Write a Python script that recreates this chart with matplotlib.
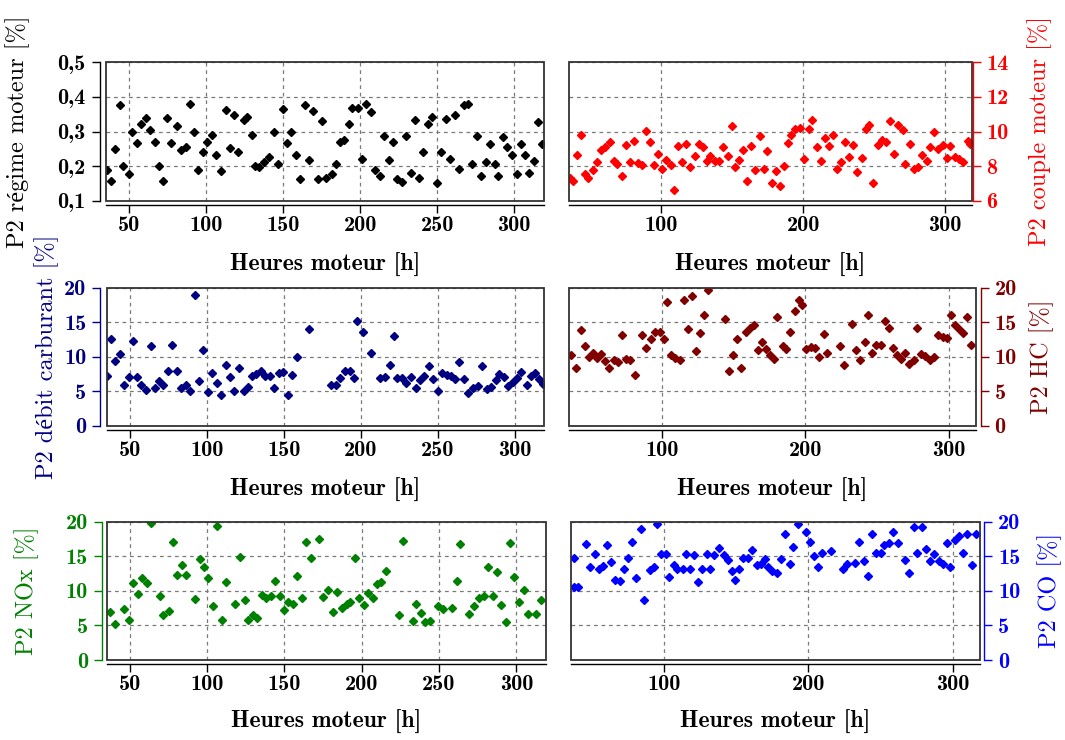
import numpy as np
import matplotlib
matplotlib.use('Agg')
import matplotlib.pyplot as plt
from matplotlib.patches import Rectangle
from matplotlib.ticker import FixedLocator, FuncFormatter

plt.rcParams['font.family'] = ['cmb10', 'DejaVu Serif']
plt.rcParams['axes.unicode_minus'] = False

# --- data (hours, value in %) ---
hours_regime = [35.5, 38.1, 40.7, 44.2, 46.3, 49.8, 52.2, 55.2, 57.8, 61.0,
                63.6, 66.5, 69.7, 72.1, 74.5, 77.5, 81.0, 83.5, 87.0, 89.6,
                92.4, 94.6, 97.8, 100.4, 103.7, 106.5, 109.6, 112.6, 115.2, 118.4,
                120.8, 124.3, 126.4, 129.7, 131.8, 134.6, 137.7, 140.7, 144.2, 146.5,
                149.8, 152.4, 155.4, 158.4, 161.0, 164.3, 166.9, 169.3, 172.5, 175.3,
                177.9, 181.4, 184.0, 187.0, 189.2, 192.5, 194.8, 198.3, 201.1, 203.9,
                207.2, 209.7, 213.0, 215.6, 218.4, 221.2, 224.2, 227.1, 229.9, 232.9,
                235.3, 238.5, 240.9, 243.9, 246.5, 249.8, 252.4, 255.6, 258.4, 261.3,
                263.9, 267.1, 270.3, 272.5, 275.8, 278.4, 281.6, 284.0, 287.3, 289.4,
                292.9, 295.2, 298.5, 301.7, 304.3, 307.3, 309.7, 312.9, 315.4, 317.9]
regime = [0.189, 0.158, 0.25, 0.377, 0.202, 0.177, 0.30, 0.268, 0.322, 0.338,
          0.305, 0.271, 0.202, 0.158, 0.338, 0.268, 0.316, 0.247, 0.256, 0.379,
          0.298, 0.189, 0.242, 0.269, 0.29, 0.233, 0.187, 0.362, 0.252, 0.348,
          0.242, 0.334, 0.343, 0.29, 0.202, 0.199, 0.212, 0.228, 0.298, 0.207,
          0.365, 0.268, 0.298, 0.233, 0.163, 0.377, 0.218, 0.358, 0.163, 0.329,
          0.167, 0.177, 0.207, 0.269, 0.276, 0.322, 0.369, 0.369, 0.221, 0.38,
          0.355, 0.189, 0.173, 0.288, 0.218, 0.269, 0.163, 0.156, 0.288, 0.18,
          0.334, 0.167, 0.242, 0.322, 0.343, 0.151, 0.242, 0.337, 0.221, 0.348,
          0.192, 0.377, 0.379, 0.207, 0.288, 0.173, 0.212, 0.263, 0.207, 0.173,
          0.284, 0.254, 0.233, 0.177, 0.264, 0.231, 0.18, 0.215, 0.326, 0.264]

hours_couple = [35.4, 37.8, 40.4, 43.2, 46.0, 48.4, 51.9, 54.7, 57.7, 60.6,
                63.6, 66.4, 69.0, 72.3, 75.1, 77.7, 80.5, 83.6, 86.4, 89.0,
                91.8, 94.8, 97.7, 100.5, 103.5, 106.6, 108.9, 111.7, 114.6, 117.6,
                120.4, 123.5, 126.3, 129.3, 132.2, 134.7, 138.0, 140.6, 143.4, 146.9,
                149.8, 152.1, 154.5, 157.5, 160.6, 163.4, 166.2, 169.7, 172.3, 174.6,
                178.2, 180.8, 183.8, 186.2, 189.2, 191.5, 194.4, 197.9, 200.9, 203.8,
                206.3, 209.6, 212.4, 215.3, 218.5, 220.9, 224.0, 226.8, 229.6, 232.6,
                235.4, 238.0, 241.5, 244.4, 246.7, 249.5, 252.6, 255.4, 258.5, 261.3,
                264.3, 266.7, 270.2, 272.1, 275.6, 278.1, 280.8, 283.9, 287.1, 289.7,
                292.5, 295.3, 298.4, 301.2, 303.8, 307.0, 310.1, 312.4, 316.0, 317.8]
couple = [7.31, 7.15, 8.65, 9.81, 7.56, 7.31, 7.79, 8.23, 8.94, 9.13,
          9.37, 8.31, 8.13, 7.46, 9.23, 8.23, 9.46, 8.17, 8.08, 10.04,
          9.38, 8.08, 8.69, 7.85, 8.37, 8.08, 6.63, 9.19, 8.23, 9.29,
          7.98, 8.6, 9.29, 9.13, 8.31, 8.6, 8.31, 8.33, 9.1, 8.6,
          10.29, 7.94, 8.37, 8.94, 7.15, 9.19, 7.79, 9.75, 7.85, 8.85,
          7.02, 7.73, 6.87, 8.04, 9.33, 9.81, 10.15, 10.19, 8.42, 10.15,
          10.67, 9.08, 8.31, 9.62, 9.19, 9.81, 7.85, 8.23, 9.42, 8.56,
          9.23, 7.65, 8.5, 10.15, 10.38, 7.06, 9.23, 9.52, 9.38, 10.62,
          8.71, 10.38, 10.1, 8.13, 9.29, 7.85, 7.98, 8.65, 8.31, 9.08,
          9.96, 8.98, 9.23, 8.5, 9.17, 8.56, 8.4, 8.23, 9.46, 9.27]

hours_debit = [35.5, 37.7, 40.3, 43.7, 46.3, 49.6, 52.2, 55.0, 57.6, 60.8,
               63.6, 66.2, 69.0, 71.8, 75.0, 77.4, 80.9, 83.5, 86.7, 89.1,
               92.3, 95.3, 97.9, 100.9, 103.5, 106.6, 109.4, 112.4, 115.0, 118.0,
               121.0, 124.1, 127.1, 129.5, 132.3, 135.3, 138.1, 140.9, 143.9, 146.7,
               149.5, 152.8, 155.4, 158.6, 166.6, 180.6, 183.9, 186.7, 189.5, 192.7,
               195.3, 197.5, 201.1, 206.7, 212.1, 215.8, 218.6, 221.2, 223.4, 226.6,
               229.4, 232.4, 235.7, 238.5, 241.1, 243.9, 246.7, 250.3, 252.9, 255.7,
               258.3, 261.1, 263.7, 266.9, 269.8, 272.6, 275.8, 278.4, 281.6, 284.2,
               287.5, 289.8, 292.9, 295.7, 298.5, 301.1, 303.7, 307.6, 310.2, 313.0,
               315.8, 318.4]
debit = [7.13, 12.49, 9.38, 10.33, 5.93, 6.99, 12.2, 6.99, 5.93, 5.22,
         11.53, 5.41, 6.51, 5.93, 7.94, 11.72, 7.94, 5.45, 5.93, 5.07,
         18.85, 6.51, 10.96, 4.83, 7.56, 6.12, 4.5, 8.8, 6.99, 5.07,
         8.28, 5.07, 5.65, 7.22, 7.46, 7.94, 7.22, 7.13, 5.45, 7.56,
         7.8, 4.5, 7.37, 9.95, 14.02, 5.93, 5.93, 6.84, 7.85, 7.85,
         6.84, 15.12, 13.59, 10.57, 6.84, 6.99, 8.8, 12.97, 6.84, 6.84,
         6.17, 6.99, 5.45, 6.6, 7.13, 8.66, 6.75, 5.07, 7.61, 7.37,
         7.13, 6.75, 9.23, 6.75, 4.69, 5.41, 5.79, 8.66, 5.31, 5.55,
         6.65, 7.46, 7.08, 5.69, 6.27, 6.89, 7.8, 5.89, 7.22, 7.56,
         6.75, 6.03]

hours_hc = [36.4, 39.9, 43.0, 45.8, 48.5, 51.6, 54.4, 57.0, 60.2, 62.7,
            66.0, 69.0, 71.8, 74.4, 77.2, 80.7, 85.8, 88.8, 91.9, 94.6,
            98.1, 100.9, 103.3, 105.8, 108.6, 112.1, 115.1, 117.9, 120.7, 123.3,
            126.1, 129.1, 131.9, 143.5, 146.6, 149.4, 152.2, 155.2, 158.2, 161.0,
            164.0, 166.8, 169.6, 172.6, 175.4, 178.0, 180.3, 184.3, 186.6, 189.4,
            192.4, 195.2, 197.6, 200.6, 203.6, 206.9, 209.2, 212.7, 215.2, 223.9,
            226.9, 232.7, 235.5, 237.8, 241.3, 243.7, 246.5, 249.5, 252.5, 255.3,
            258.1, 261.1, 263.9, 266.9, 269.7, 272.7, 275.8, 278.1, 280.9, 283.7,
            287.2, 290.2, 292.6, 296.0, 298.8, 301.4, 304.2, 307.2, 310.0, 312.8,
            315.8]
hc = [10.19, 8.28, 13.83, 11.53, 10.0, 10.48, 9.86, 10.33, 9.38, 8.42,
      9.52, 9.23, 13.11, 9.71, 9.52, 7.37, 13.11, 11.29, 12.58, 13.54,
      13.54, 12.58, 17.89, 10.19, 9.76, 9.52, 18.13, 14.02, 18.71, 10.81,
      13.35, 15.98, 19.57, 15.45, 7.94, 10.19, 12.58, 8.28, 13.54, 14.16,
      14.64, 10.96, 12.1, 11.05, 10.19, 9.62, 15.74, 11.53, 11.15, 13.54,
      16.56, 18.13, 17.51, 11.05, 11.44, 11.29, 9.95, 13.3, 10.48, 11.53,
      8.8, 14.78, 10.96, 9.52, 12.1, 15.98, 10.48, 11.63, 11.67, 15.12,
      14.16, 11.29, 10.19, 9.71, 10.48, 9.0, 9.47, 14.16, 10.33, 10.1,
      9.47, 10.0, 13.06, 12.87, 12.73, 15.98, 14.64, 14.02, 13.44, 15.74,
      11.67]

hours_nox = [37.3, 40.3, 45.9, 49.6, 52.2, 55.0, 57.8, 61.0, 63.6, 69.6,
             71.7, 75.4, 78.0, 80.8, 84.0, 86.6, 92.2, 95.2, 98.0, 100.8,
             103.8, 106.6, 109.9, 112.4, 118.0, 121.3, 124.3, 126.7, 129.7, 132.0,
             135.3, 138.3, 141.1, 143.7, 146.9, 149.7, 152.3, 155.5, 157.9, 161.1,
             163.7, 166.9, 172.3, 175.1, 178.1, 181.4, 184.2, 187.0, 190.2, 192.3,
             195.6, 198.1, 201.4, 204.0, 207.2, 209.6, 212.6, 215.4, 224.0, 226.8,
             233.0, 235.4, 238.4, 241.2, 244.0, 249.4, 252.6, 258.4, 261.7, 263.8,
             269.6, 272.9, 275.6, 278.9, 281.5, 284.7, 287.5, 290.1, 293.3, 295.7,
             298.7, 301.9, 304.7, 307.5, 312.9, 315.9]
nox = [6.98, 5.22, 7.32, 5.76, 11.07, 9.61, 11.8, 11.07, 19.85, 9.27,
       6.49, 7.07, 17.07, 12.34, 13.76, 12.34, 8.88, 14.54, 13.41, 11.8,
       7.8, 19.41, 5.85, 11.22, 8.15, 14.88, 8.68, 5.85, 6.49, 6.1,
       9.41, 9.02, 9.27, 11.37, 9.27, 7.17, 8.44, 8.15, 12.2, 8.93,
       17.07, 14.73, 17.56, 9.12, 10.1, 6.98, 9.9, 7.56, 8.05, 8.44,
       14.73, 9.02, 7.95, 9.76, 9.02, 10.98, 11.22, 12.83, 6.49, 17.22,
       5.71, 8.05, 6.83, 5.51, 5.71, 7.8, 7.32, 7.56, 11.37, 16.83,
       6.68, 7.8, 8.93, 9.27, 13.41, 9.27, 12.68, 7.95, 5.51, 16.93,
       12.05, 8.44, 10.1, 6.68, 6.68, 8.63]

hours_co = [37.1, 37.1, 40.1, 45.8, 48.6, 52.0, 54.3, 57.7, 60.5, 63.0,
            65.7, 69.1, 71.9, 74.9, 77.6, 80.1, 83.5, 85.8, 89.7, 92.5,
            94.7, 97.7, 101.1, 103.4, 106.4, 109.1, 112.6, 115.3, 117.8, 120.6,
            123.5, 126.3, 129.7, 132.0, 134.7, 138.2, 141.1, 144.1, 146.9, 149.1,
            151.9, 154.9, 157.8, 161.0, 164.0, 166.7, 169.7, 172.0, 175.0, 178.2,
            181.1, 183.4, 186.9, 189.1, 192.6, 198.3, 201.0, 204.0, 206.3, 209.7,
            215.4, 224.1, 226.9, 232.6, 235.3, 238.3, 241.3, 244.0, 247.0, 250.2,
            252.7, 255.9, 258.4, 261.8, 266.9, 269.8, 273.0, 275.5, 278.7, 281.7,
            284.5, 287.4, 290.4, 293.1, 296.1, 298.4, 301.6, 304.6, 307.3, 310.3,
            313.3, 316.0]
co = [14.73, 10.59, 10.59, 16.73, 13.41, 15.37, 13.17, 13.56, 16.59, 14.15,
      11.56, 11.37, 13.17, 14.73, 17.07, 11.8, 18.88, 8.68, 13.02, 13.41,
      19.66, 15.27, 15.27, 12.05, 13.8, 13.17, 13.17, 15.37, 13.17, 15.22,
      11.32, 13.17, 15.37, 13.17, 15.22, 16.24, 15.22, 14.49, 12.83, 11.56,
      13.17, 14.78, 14.78, 15.85, 13.76, 13.9, 14.54, 13.41, 12.93, 12.59,
      14.63, 18.29, 13.9, 16.34, 19.61, 18.54, 17.07, 15.02, 13.51, 15.51,
      15.76, 13.17, 13.9, 14.05, 17.07, 14.29, 12.2, 18.2, 15.51, 15.51,
      16.68, 16.93, 18.44, 16.93, 14.49, 12.54, 19.27, 15.51, 19.27, 16.0,
      14.29, 15.37, 14.29, 13.9, 16.93, 13.41, 17.32, 17.9, 15.51, 18.2,
      13.8, 18.2]

W, H = 1065, 740
fig = plt.figure(figsize=(W / 100, H / 100), dpi=100)

XLABEL = 'Heures moteur [h]'
YFONT = ['cmr10', 'Liberation Serif']


def comma(v, pos):
    return ('%.1f' % v).replace('.', ',')


def panel(box, x, y, color, ylim, yticks, ylabel, side, xticks,
          ylab_x, xlab_y, spine_off, yfmt=None):
    x0, x1, y0, y1 = box
    ax = fig.add_axes([x0 / W, (H - y1) / H, (x1 - x0) / W, (y1 - y0) / H])
    ax.plot(x, y, 'D', color=color, ms=3.8, ls='none')
    ax.set_xlim(35, 319)
    ax.set_ylim(*ylim)
    ax.xaxis.set_major_locator(FixedLocator(xticks))
    ax.yaxis.set_major_locator(FixedLocator(yticks))
    if yfmt is not None:
        ax.yaxis.set_major_formatter(FuncFormatter(yfmt))
    ax.set_axisbelow(True)
    ax.grid(True, color='#7a7a7a', ls=(0, (3, 3)), lw=0.9)

    ax.spines['top'].set_visible(False)
    other = 'right' if side == 'left' else 'left'
    ax.spines[other].set_visible(False)
    ax.spines[side].set_position(('outward', spine_off))
    ax.spines[side].set_color(color)
    ax.spines[side].set_linewidth(1.0)
    ax.spines['bottom'].set_position(('outward', 3))
    ax.spines['bottom'].set_color('black')
    ax.spines['bottom'].set_linewidth(1.0)
    ax.add_patch(Rectangle((0, 0), 1, 1, transform=ax.transAxes, fill=False,
                           ec='#333333', lw=1.3, clip_on=False, zorder=5))

    if side == 'right':
        ax.yaxis.tick_right()
        ax.yaxis.set_label_position('right')
    ax.tick_params(axis='y', direction='out', length=6, width=1.0,
                   color=color, labelcolor=color, labelsize=16, pad=4)
    ax.tick_params(axis='x', direction='out', length=6, width=1.0,
                   color='black', labelsize=16, pad=2)

    ax.set_ylabel(ylabel, color=color, fontsize=17.5, family=YFONT,
                  va='center', rotation=90)
    ax.yaxis.set_label_coords((ylab_x - x0) / (x1 - x0), 0.5)
    ax.set_xlabel(XLABEL, fontsize=17, va='center')
    ax.xaxis.set_label_coords(0.5, (y1 - xlab_y) / (y1 - y0))
    return ax


left_ticks = [50, 100, 150, 200, 250, 300]
right_ticks = [100, 200, 300]

panel((106, 543.5, 62, 201), hours_regime, regime, 'black', (0.1, 0.5),
      [0.1, 0.2, 0.3, 0.4, 0.5], 'P2 régime moteur [%]', 'left', left_ticks,
      18, 265, 4.5, yfmt=comma)
panel((569, 972, 62, 201), hours_couple, couple, '#ff0000', (6, 14),
      [6, 8, 10, 12, 14], 'P2 couple moteur [%]', 'right', right_ticks,
      1040, 265, 0.5)
panel((106.5, 544.3, 287.5, 425.7), hours_debit, debit, '#000080', (0, 20),
      [0, 5, 10, 15, 20], 'P2 débit carburant [%]', 'left', left_ticks,
      47, 490, 4.5)
panel((569.3, 975.7, 287.5, 425.7), hours_hc, hc, '#800000', (0, 20),
      [0, 5, 10, 15, 20], 'P2 HC [%]', 'right', right_ticks,
      1042, 490, 3.5)
panel((106.7, 545.7, 521.7, 660), hours_nox, nox, '#008000', (0, 20),
      [0, 5, 10, 15, 20], 'P2 NOx [%]', 'left', left_ticks,
      27, 722, 3.5)
panel((570.7, 980, 521.7, 660), hours_co, co, '#0000ff', (0, 20),
      [0, 5, 10, 15, 20], 'P2 CO [%]', 'right', right_ticks,
      1050, 722, 3)

fig.savefig('out.png', dpi=100)
